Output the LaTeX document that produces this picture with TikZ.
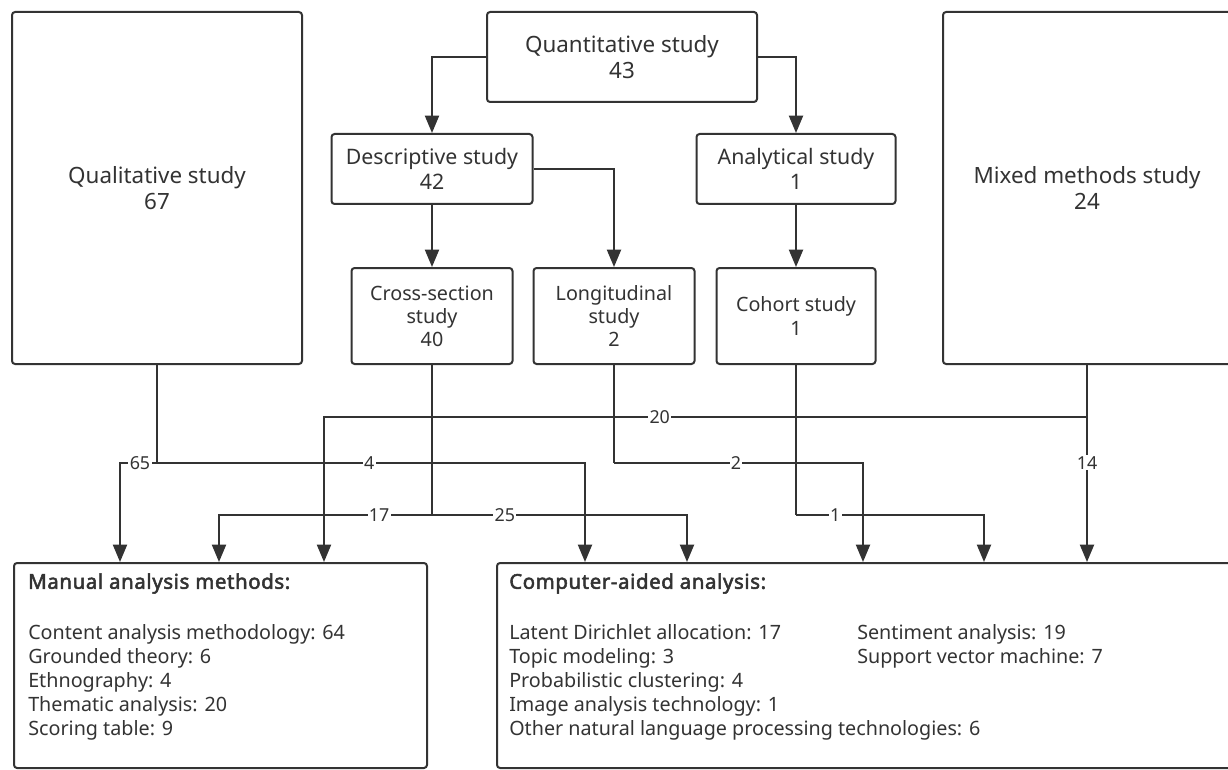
\documentclass[tikz,border=0pt]{standalone}
\usepackage{fontspec}
\setmainfont{Noto Sans}[AutoFakeBold=2.5]
\usetikzlibrary{arrows.meta}
\definecolor{ink}{HTML}{333333}
\newcommand{\boxtitle}[1]{{\fontsize{15.3}{18}\selectfont\addfontfeature{LetterSpace=3}\textbf{#1}}}
\begin{document}
\begin{tikzpicture}[x=0.75pt,y=-0.75pt,
  box/.style={draw=ink, line width=1.5pt, rounded corners=2.3pt, align=center, text=ink, inner sep=0pt},
  hugebox/.style={box, font=\fontsize{16.8}{19.8}\selectfont},
  bigbox/.style={box, font=\fontsize{16}{19}\selectfont},
  smallbox/.style={box, font=\fontsize{14.8}{17.3}\selectfont},
  plainbox/.style={draw=ink, line width=1.5pt, rounded corners=2.3pt, inner sep=0pt},
  conn/.style={draw=ink, line width=1.5pt},
  arr/.style={conn, -{Triangle[length=13pt,width=10.5pt]}},
  lbl/.style={fill=white, text=ink, inner sep=1pt, font=\fontsize{13.4}{15}\selectfont},
  listtxt/.style={text=ink, align=left, anchor=north west, inner sep=0pt, font=\fontsize{14.8}{18}\selectfont}]
\useasboundingbox (0,0) rectangle (1228,770);
\fill[white] (0,0) rectangle (1228,770);

% top boxes
\node[hugebox, minimum width=217.5pt, minimum height=264pt] (qual) at (157,188) {Qualitative study\\67};
\node[hugebox, minimum width=202.5pt, minimum height=67.5pt] (quant) at (622,57) {Quantitative study\\43};
\node[bigbox, minimum width=150.75pt, minimum height=52.5pt] (desc) at (432,169) {Descriptive study\\42};
\node[bigbox, minimum width=149.25pt, minimum height=52.5pt] (anal) at (796,169) {Analytical study\\1};
\node[smallbox, minimum width=120.75pt, minimum height=72pt] (cross) at (432,316) {Cross-section\\study\\40};
\node[smallbox, minimum width=120.75pt, minimum height=72pt] (long) at (614,316) {Longitudinal\\study\\2};
\node[smallbox, minimum width=119.25pt, minimum height=72pt] (cohort) at (796,316) {Cohort study\\1};
\node[hugebox, minimum width=216pt, minimum height=264pt] (mixed) at (1087,188) {Mixed methods study\\24};

% bottom boxes
\node[plainbox, minimum width=309.75pt, minimum height=153.75pt] (manual) at (220.5,665.5) {};
\node[plainbox, minimum width=553.5pt, minimum height=153.75pt] (comp) at (866,665.5) {};
\node[listtxt] (manualtxt) at (28,573) {\boxtitle{Manual analysis methods:}\\[20.2pt]
Content analysis methodology: 64\\
Grounded theory: 6\\
Ethnography: 4\\
Thematic analysis: 20\\
Scoring table: 9};
\node[listtxt] (comptxt) at (509,573) {\boxtitle{Computer-aided analysis:}\\[20.2pt]
Latent Dirichlet allocation: 17\\
Topic modeling: 3\\
Probabilistic clustering: 4\\
Image analysis technology: 1\\
Other natural language processing technologies: 6};
\node[listtxt] (comptxt2) at (857,573) {\boxtitle{\phantom{Computer-aided analysis:}}\\[20.2pt]
Sentiment analysis: 19\\
Support vector machine: 7};

% top connectors
\draw[arr] (quant.west) -| (desc.north);
\draw[arr] (quant.east) -| (anal.north);
\draw[arr] (desc.east) -| (long.north);
\draw[arr] (desc.south) -- (cross.north);
\draw[arr] (anal.south) -- (cohort.north);

% junctions and targets
\coordinate (jq) at (157,463);
\coordinate (jc) at (432,515);
\coordinate (jl) at (614,463);
\coordinate (jh) at (796,515);
\coordinate (jm) at (1087,417);
\coordinate (t120) at (120,563);
\coordinate (t219) at (219,563);
\coordinate (t324) at (324,563);
\coordinate (t585) at (585,563);
\coordinate (t687) at (687,563);
\coordinate (t863) at (863,563);
\coordinate (t984) at (984,563);

% bottom connectors
\draw[conn] (qual.south) -- (jq);
\draw[arr] (jq) -| node[lbl,pos=0.23]{65} (manual.north -| t120);
\draw[arr] (jq) -| node[lbl,pos=0.248]{4} (comp.north -| t585);
\draw[conn] (cross.south) -- (jc);
\draw[arr] (jc) -| node[lbl,pos=0.124]{17} (manual.north -| t219);
\draw[arr] (jc) -| node[lbl,pos=0.143]{25} (comp.north -| t687);
\draw[conn] (long.south) -- (jl);
\draw[arr] (jl) -| node[lbl,pos=0.245]{2} (comp.north -| t863);
\draw[conn] (cohort.south) -- (jh);
\draw[arr] (jh) -| node[lbl,pos=0.104]{1} (comp.north -| t984);
\draw[conn] (mixed.south) -- (jm);
\draw[arr] (jm) -| node[lbl,pos=0.28]{20} (manual.north -| t324);
\draw[arr] (jm) -- node[lbl,pos=0.315]{14} (comp.north -| jm);
\end{tikzpicture}
\end{document}
